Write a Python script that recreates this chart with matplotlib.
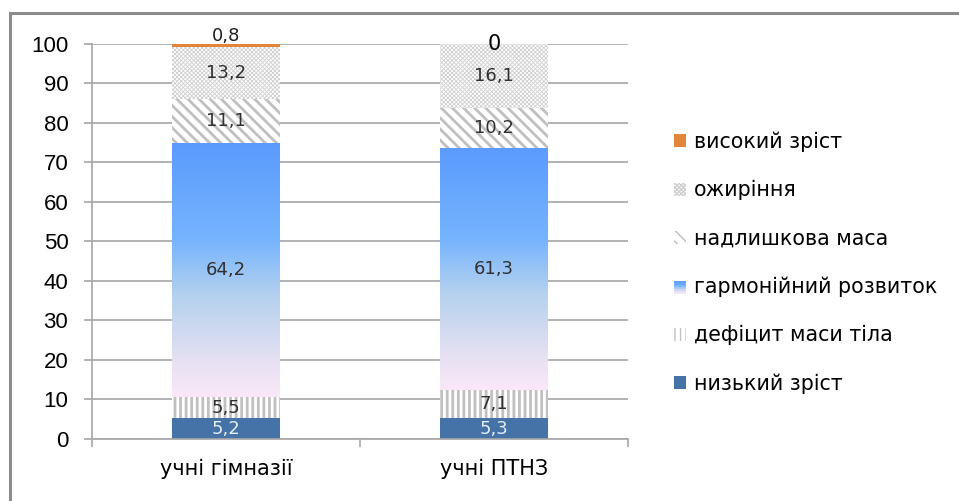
import numpy as np
import matplotlib
matplotlib.use('Agg')
import matplotlib.pyplot as plt
from matplotlib.colors import LinearSegmentedColormap
from matplotlib.patches import Rectangle
from matplotlib.lines import Line2D
from matplotlib.legend_handler import HandlerBase

categories = ['учні гімназії', 'учні ПТНЗ']
series = ['низький зріст', 'дефіцит маси тіла', 'гармонійний розвиток',
          'надлишкова маса', 'ожиріння', 'високий зріст']
short_stature = [5.2, 5.3]
underweight = [5.5, 7.1]
harmonious = [64.2, 61.3]
overweight = [11.1, 10.2]
obesity = [13.2, 16.1]
tall_stature = [0.8, 0]
values = [short_stature, underweight, harmonious, overweight, obesity, tall_stature]

# fill / hatch per series (harmonious one gets a gradient fill)
styles = [
    dict(color='#4572a7', edgecolor='#4572a7', hatch=None, hlw=1.0),
    dict(color='white', edgecolor='#c0c0c0', hatch='|||', hlw=2.0),
    dict(color='none', edgecolor='none', hatch=None, hlw=1.0),
    dict(color='white', edgecolor='#c0c0c0', hatch='\\\\\\', hlw=2.0),
    dict(color='white', edgecolor='#d0d0d0', hatch='xxxxxxxx', hlw=0.6),
    dict(color='#e0853a', edgecolor='#e0853a', hatch=None, hlw=1.0),
]
label_colors = ['#e6eef8', '#303030', '#303030', '#303030', '#303030', '#202020']

grad = LinearSegmentedColormap.from_list('harm', [
    (0.0, '#fae8f8'), (0.15, '#e4e0f2'), (0.40, '#b4d1ee'),
    (0.62, '#76b4fe'), (1.0, '#5a9bfd')])

fig = plt.figure(figsize=(9.59, 5.01), dpi=100)
ax = fig.add_axes([0.0959, 0.1238, 0.559, 0.7884])

x = np.arange(len(categories))
width = 0.4
bottoms = np.zeros(len(categories))
for name, vals, st, lc in zip(series, values, styles, label_colors):
    vals = np.array(vals, dtype=float)
    with plt.rc_context({'hatch.linewidth': st['hlw']}):
        bars = ax.bar(x, vals, width, bottom=bottoms, color=st['color'],
                      edgecolor=st['edgecolor'], linewidth=0, hatch=st['hatch'],
                      zorder=2)
    if name == 'гармонійний розвиток':
        for b in bars:
            x0, y0 = b.get_x(), b.get_y()
            im = ax.imshow(np.linspace(0, 1, 256).reshape(-1, 1), cmap=grad,
                           origin='lower', aspect='auto', zorder=2,
                           extent=[x0, x0 + b.get_width(), y0, y0 + b.get_height()])
            im.set_clip_path(b)
    for xi, v, b0 in zip(x, vals, bottoms):
        dy = 7 if (0 < v < 2) else 0
        fs, col = (15, 'black') if v == 0 else (13, lc)
        ax.annotate(f'{v:g}'.replace('.', ','), (xi, b0 + v / 2),
                    xytext=(0, dy), textcoords='offset points',
                    ha='center', va='center', fontsize=fs, color=col,
                    family='DejaVu Sans', zorder=4)
    bottoms += vals

ax.set_xlim(-0.5, 1.5)
ax.set_ylim(0, 100)
ax.set_yticks(range(0, 101, 10))
ax.yaxis.grid(True, color='#a6a6a6', linewidth=1.2)
ax.set_axisbelow(True)
for s in ['top', 'right']:
    ax.spines[s].set_visible(False)
for s in ['left', 'bottom']:
    ax.spines[s].set_color('#a6a6a6')
    ax.spines[s].set_linewidth(1.2)

ax.set_xticks([-0.5, 0.5, 1.5])
ax.set_xticklabels([])
ax.set_xticks(x, minor=True)
ax.set_xticklabels(categories, minor=True, fontsize=15,
                   family=['Liberation Sans Narrow', 'DejaVu Sans'])
ax.tick_params(axis='x', which='major', length=6, color='#a6a6a6', width=1.2)
ax.tick_params(axis='x', which='minor', length=0, pad=14)
ax.tick_params(axis='y', length=6, color='#a6a6a6', width=1.2, pad=11,
               labelsize=16)
for t in ax.get_yticklabels():
    t.set_family(['Liberation Sans', 'DejaVu Sans'])


class GradientHandler(HandlerBase):
    def create_artists(self, legend, orig, xd, yd, w, h, fs, trans):
        n = 20
        return [Rectangle((xd, yd + h * i / n), w, h / n, facecolor=grad(i / (n - 1)),
                          edgecolor='none', transform=trans) for i in range(n)]


handles = []
for name, st in zip(series, styles):
    if name == 'гармонійний розвиток':
        handles.append(Rectangle((0, 0), 1, 1, label=name))
    else:
        with plt.rc_context({'hatch.linewidth': st['hlw']}):
            handles.append(Rectangle((0, 0), 1, 1, facecolor=st['color'],
                                     edgecolor=st['edgecolor'], linewidth=0,
                                     hatch=st['hatch']))
handler_map = {handles[2]: GradientHandler()}
fig.legend(handles[::-1], series[::-1], loc='upper left',
           bbox_to_anchor=(655 / 959, 1 - 113 / 501), frameon=False,
           prop={'family': 'DejaVu Sans', 'size': 14.8}, handlelength=0.6,
           handleheight=0.6, handletextpad=0.4, labelspacing=1.37,
           handler_map=handler_map)

# outer frame
fig.add_artist(Line2D([10 / 959, 1], [1 - 13 / 501] * 2, transform=fig.transFigure,
                      color='#8c8c8c', linewidth=2.2))
fig.add_artist(Line2D([10 / 959] * 2, [0, 1 - 13 / 501], transform=fig.transFigure,
                      color='#8c8c8c', linewidth=2.2))

fig.savefig('out.png', dpi=100)
